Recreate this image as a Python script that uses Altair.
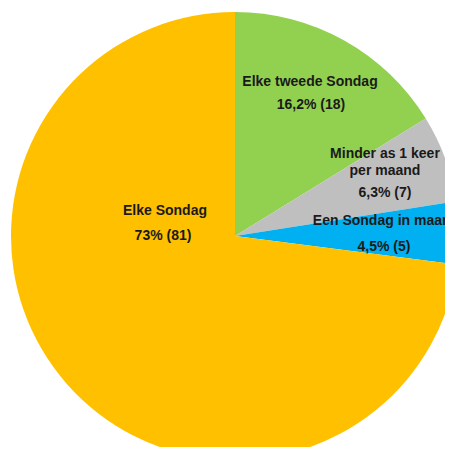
import altair as alt
import pandas as pd

# ---- data ----
categories = ["Elke tweede Sondag", "Minder as 1 keer per maand", "Een Sondag in maand", "Elke Sondag"]
counts = [18, 7, 5, 81]
name_line1 = ["Elke tweede Sondag", "Minder as 1 keer", "Een Sondag in maand", "Elke Sondag"]
name_line2 = ["", "per maand", "", ""]
value_labels = ["16,2% (18)", "6,3% (7)", "4,5% (5)", "73% (81)"]
colors = ["#92D050", "#BFBFBF", "#00B0F0", "#FFC000"]

df = pd.DataFrame({
    "cat": categories,
    "count": counts,
    "order": list(range(len(categories))),
    "line1": name_line1,
    "line2": name_line2,
    "value": value_labels,
})

# ---- layout / style ----
CX, CY, R = 227, 228, 224
FONT = "Liberation Sans"

base = alt.Chart(df).encode(
    theta=alt.Theta("count:Q", stack=True),
    order=alt.Order("order:Q"),
    x=alt.value(CX),
    y=alt.value(CY),
)

arc = base.mark_arc(outerRadius=R).encode(
    color=alt.Color("cat:N", scale=alt.Scale(domain=categories, range=colors), legend=None),
    detail="cat:N",
)

# label placement per slice: (label radius, [(field, dx, dy), ...])
label_layout = {
    "Elke tweede Sondag": (162, [("line1", -4, -13), ("value", -3, 10)]),
    "Minder as 1 keer per maand": (162, [("line1", -2, -26), ("line2", -2, -9), ("value", -2, 13)]),
    "Een Sondag in maand": (162, [("line1", -11, -13), ("value", -13, 13)]),
    "Elke Sondag": (0, [("line1", -70, -25), ("value", -72, 0)]),
}

layers = [arc]
for cat, (rad, lines) in label_layout.items():
    for field, dx, dy in lines:
        layers.append(
            base.transform_calculate(
                t=f"datum.cat === '{cat}' ? datum.{field} : ''"
            ).mark_text(
                radius=rad, dx=dx, dy=dy, font=FONT, fontSize=14, fontWeight="bold",
                color="#1a1a1a", align="center", baseline="middle",
            ).encode(text="t:N", detail="cat:N")
        )

chart = alt.layer(*layers).properties(
    width=437, height=439,
    autosize=alt.AutoSizeParams(type="none"),
    padding=0,
).configure_view(stroke=None)

chart.save("out.html", embed_options={"renderer": "svg", "actions": False})
